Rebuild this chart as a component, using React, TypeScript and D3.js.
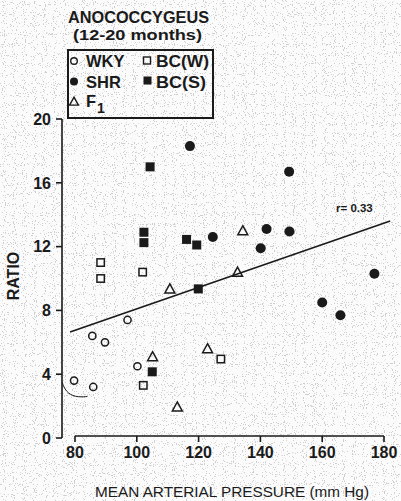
import * as d3 from "d3";

// values: [mean arterial pressure, ratio]
const wkyPoints: [number, number][] = [
    [79.7, 3.6], [85.9, 3.2], [85.6, 6.4], [89.7, 6.0], [97.0, 7.4], [100.2, 4.5]
];
const shrPoints: [number, number][] = [
    [117.2, 18.3], [124.6, 12.6], [142.0, 13.1], [149.4, 12.95], [140.1, 11.9],
    [149.3, 16.7], [176.9, 10.3], [160.0, 8.5], [165.9, 7.7]
];
const bcwPoints: [number, number][] = [
    [88.3, 11.0], [88.3, 10.0], [101.9, 10.4], [102.1, 3.3], [127.2, 4.95]
];
const bcsPoints: [number, number][] = [
    [104.3, 17.0], [102.3, 12.9], [102.3, 12.25], [116.1, 12.45], [119.4, 12.1],
    [119.9, 9.35], [105.0, 4.15]
];
const f1Points: [number, number][] = [
    [110.7, 9.35], [134.3, 13.0], [132.6, 10.4], [105.1, 5.1], [122.9, 5.6], [113.1, 1.95]
];
const fitLine: [number, number][] = [[78.4, 6.65], [182, 13.6]];
const fitLabel = "r= 0.33";
const xTicks = [80, 100, 120, 140, 160, 180];
const yTicks = [0, 4, 8, 12, 16, 20];

const W = 401;
const H = 501;
const font = "'Liberation Sans', Arial, sans-serif";
const ink = "#1a1a1a";

export default function App() {
    const x = d3.scaleLinear().domain([80, 180]).range([75, 384]);
    const y = d3.scaleLinear().domain([0, 20]).range([438, 119]);
    const line = d3.line<[number, number]>().x(d => x(d[0])).y(d => y(d[1]));

    // stray pen stroke near the origin in the original scan
    const strayArc = d3.line<[number, number]>()
        .curve(d3.curveBasis)
        .x(d => x(d[0]))
        .y(d => y(d[1]));
    const strayPts: [number, number][] = [[75.8, 3.5], [77, 2.9], [80, 2.55], [84, 2.6]];

    const tri = (cx: number, cy: number, s: number) =>
        `M${cx},${cy - s * 0.55}L${cx + s * 0.55},${cy + s * 0.45}L${cx - s * 0.55},${cy + s * 0.45}Z`;

    return (
        <svg width={W} height={H} style={{ position: "absolute", left: 0, top: 0, fontFamily: font }}>
            <defs>
                <filter id="speckle" x="0" y="0" width="100%" height="100%">
                    <feTurbulence type="fractalNoise" baseFrequency="0.9" numOctaves={1} seed={3} />
                    <feColorMatrix type="matrix"
                        values="0 0 0 0 0.4  0 0 0 0 0.4  0 0 0 0 0.4  -22 0 0 0 8.4" />
                </filter>
            </defs>
            <rect width={W} height={H} fill="#fbfbfb" />
            <rect width={W} height={H} filter="url(#speckle)" opacity={0.55} />

            {/* title */}
            <text x={68} y={23} fontSize={16} fontWeight="bold" fill={ink} textLength={141} lengthAdjust="spacingAndGlyphs">ANOCOCCYGEUS</text>
            <text x={73} y={40} fontSize={15} fontWeight="bold" fill={ink} textLength={129} lengthAdjust="spacingAndGlyphs">(12-20 months)</text>

            {/* legend */}
            <rect x={68} y={50} width={145} height={68} fill="none" stroke={ink} strokeWidth={2} />
            <g fontSize={16.5} fontWeight="bold" fill={ink}>
                <circle cx={74} cy={61} r={3.3} fill="none" stroke={ink} strokeWidth={1.4} />
                <text x={86} y={67}>WKY</text>
                <circle cx={74} cy={81.5} r={4} fill={ink} />
                <text x={86} y={87.5}>SHR</text>
                <path d={tri(74, 101.5, 8)} fill="none" stroke={ink} strokeWidth={1.4} />
                <text x={86} y={107}>F</text>
                <text x={97} y={113} fontSize={14}>1</text>
                <rect x={143.5} y={57} width={7} height={7} fill="none" stroke={ink} strokeWidth={1.4} />
                <text x={156} y={67} textLength={53} lengthAdjust="spacingAndGlyphs">BC(W)</text>
                <rect x={143.5} y={76.5} width={8} height={8} fill={ink} />
                <text x={156} y={87.5} textLength={50} lengthAdjust="spacingAndGlyphs">BC(S)</text>
            </g>

            {/* y axis */}
            <line x1={62} x2={62} y1={y(20)} y2={y(0)} stroke={ink} strokeWidth={1.6} />
            {yTicks.map(t => (
                <g key={t}>
                    <line x1={56} x2={62} y1={y(t)} y2={y(t)} stroke={ink} strokeWidth={1.6} />
                    <text x={51} y={y(t)} dy="0.36em" textAnchor="end" fontSize={16} fontWeight="bold" fill={ink}>{t}</text>
                </g>
            ))}
            <text transform={`translate(19,276) rotate(-90)`} textAnchor="middle" fontSize={16} fontWeight="bold" fill={ink}>RATIO</text>

            {/* x axis */}
            <line x1={x(80)} x2={x(180)} y1={436} y2={436} stroke={ink} strokeWidth={1.6} />
            {xTicks.map(t => (
                <g key={t}>
                    <line x1={x(t)} x2={x(t)} y1={436} y2={442} stroke={ink} strokeWidth={1.6} />
                    <text x={x(t)} y={458} textAnchor="middle" fontSize={16} fontWeight="bold" fill={ink}>{t}</text>
                </g>
            ))}
            <text x={232} y={497} textAnchor="middle" fontSize={15} fill={ink} textLength={274} lengthAdjust="spacingAndGlyphs">MEAN ARTERIAL PRESSURE (mm Hg)</text>

            {/* regression */}
            <path d={line(fitLine) ?? ""} fill="none" stroke={ink} strokeWidth={1.6} />
            <text x={336} y={212} fontSize={11.5} fontWeight="bold" fill={ink}>{fitLabel}</text>
            <path d={strayArc(strayPts) ?? ""} fill="none" stroke={ink} strokeWidth={1} />

            {/* points */}
            {wkyPoints.map((d, i) => (
                <circle key={"w" + i} cx={x(d[0])} cy={y(d[1])} r={3.6} fill="none" stroke={ink} strokeWidth={1.5} />
            ))}
            {shrPoints.map((d, i) => (
                <circle key={"s" + i} cx={x(d[0])} cy={y(d[1])} r={5} fill={ink} />
            ))}
            {bcwPoints.map((d, i) => (
                <rect key={"bw" + i} x={x(d[0]) - 3.7} y={y(d[1]) - 3.7} width={7.4} height={7.4} fill="none" stroke={ink} strokeWidth={1.5} />
            ))}
            {bcsPoints.map((d, i) => (
                <rect key={"bs" + i} x={x(d[0]) - 4.5} y={y(d[1]) - 4.5} width={9} height={9} fill={ink} />
            ))}
            {f1Points.map((d, i) => (
                <path key={"f" + i} d={tri(x(d[0]), y(d[1]), 9)} fill="none" stroke={ink} strokeWidth={1.5} />
            ))}
        </svg>
    );
}
